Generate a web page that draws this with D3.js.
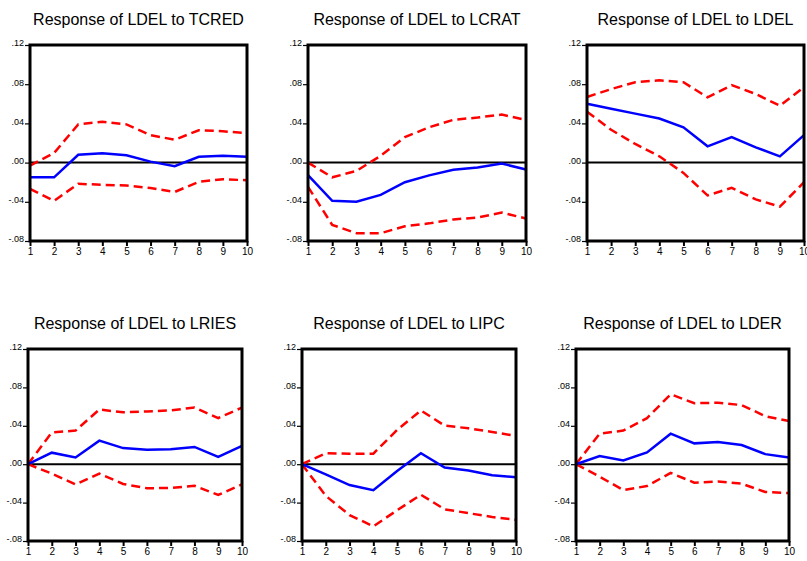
<!DOCTYPE html>
<meta charset="utf-8">
<head>
<style>
  body{ margin:0; background:#fff; }
  text{ font-family: "Liberation Sans", Arial, sans-serif; fill:#000; }
  .title{ font-size:16px; }
  .tick{ font-size:9px; font-family:"Liberation Sans Narrow","Liberation Sans",Arial,sans-serif; }
</style>
</head>
<title>Impulse responses</title>
<script src="https://d3js.org/d3.v7.min.js"></script>
<div id="chart"></div>
<script>

var steps = [1,2,3,4,5,6,7,8,9,10];
var yTicks = [0.12, 0.08, 0.04, 0.00, -0.04, -0.08];
var yTickLabels = [".12", ".08", ".04", ".00", "-.04", "-.08"];
var titles = ["Response of LDEL to TCRED", "Response of LDEL to LCRAT", "Response of LDEL to LDEL",
              "Response of LDEL to LRIES", "Response of LDEL to LIPC", "Response of LDEL to LDER"];

// point estimates
var respTCRED = [-0.015,-0.015,0.008,0.0095,0.0075,0.001,-0.0037,0.006,0.007,0.006];
var respLCRAT = [-0.0128,-0.039,-0.040,-0.033,-0.020,-0.013,-0.0074,-0.005,-0.001,-0.007];
var respLDEL  = [0.060,0.055,0.050,0.045,0.036,0.0166,0.026,0.0156,0.0064,0.028];
var respLRIES = [0,0.012,0.007,0.0245,0.0168,0.015,0.0157,0.018,0.0077,0.019];
var respLIPC  = [0,-0.0105,-0.0217,-0.027,-0.007,0.0115,-0.0035,-0.0066,-0.0115,-0.0136];
var respLDER  = [0,0.0084,0.0038,0.0122,0.0318,0.0217,0.023,0.020,0.0105,0.007];

// upper bands (+2 s.e.)
var upTCRED = [-0.003,0.0098,0.039,0.0416,0.039,0.028,0.0233,0.033,0.032,0.030];
var upLCRAT = [0,-0.015,-0.0085,0.007,0.026,0.036,0.0436,0.046,0.049,0.0436];
var upLDEL  = [0.067,0.075,0.082,0.084,0.082,0.0666,0.079,0.070,0.058,0.077];
var upLRIES = [0,0.033,0.035,0.057,0.054,0.055,0.056,0.059,0.048,0.059];
var upLIPC  = [0,0.0115,0.0108,0.011,0.0357,0.056,0.0402,0.0374,0.0336,0.0294];
var upLDER  = [0,0.0318,0.035,0.048,0.0728,0.0636,0.064,0.0616,0.050,0.045];

// lower bands (-2 s.e.)
var loTCRED = [-0.0267,-0.039,-0.0216,-0.0227,-0.0233,-0.026,-0.030,-0.0196,-0.017,-0.018];
var loLCRAT = [-0.0247,-0.0636,-0.072,-0.072,-0.065,-0.062,-0.058,-0.056,-0.051,-0.057];
var loLDEL  = [0.052,0.0335,0.019,0.0064,-0.0105,-0.0335,-0.0257,-0.0375,-0.045,-0.020];
var loLRIES = [0,-0.0098,-0.021,-0.0098,-0.0206,-0.025,-0.0248,-0.0224,-0.032,-0.021];
var loLIPC  = [0,-0.033,-0.053,-0.0647,-0.048,-0.0318,-0.047,-0.051,-0.055,-0.058];
var loLDER  = [0,-0.013,-0.027,-0.0227,-0.0091,-0.0192,-0.018,-0.0203,-0.029,-0.030];

var resp = [respTCRED, respLCRAT, respLDEL, respLRIES, respLIPC, respLDER];
var up   = [upTCRED, upLCRAT, upLDEL, upLRIES, upLIPC, upLDER];
var lo   = [loTCRED, loLCRAT, loLDEL, loLRIES, loLIPC, loLDER];

// frame of each panel: left, right, top, bottom
var frames = [
  [30, 247, 45, 241], [308, 526, 45, 241], [587, 804, 45, 241],
  [28, 242, 349, 541], [302, 516, 349, 541], [576, 789, 349, 541]
];

var svg = d3.select("#chart").append("svg")
    .attr("width", 807)
    .attr("height", 561);

for (var i = 0; i < 6; i++) {
  var f = frames[i];
  var x = d3.scaleLinear().domain([1, 10]).range([f[0], f[1]]);
  var y = d3.scaleLinear().domain([-0.08, 0.12]).range([f[3], f[2]]);
  var g = svg.append("g");

  g.append("text").attr("class", "title")
    .attr("x", (f[0] + f[1]) / 2)
    .attr("y", f[2] - 20)
    .attr("text-anchor", "middle")
    .text(titles[i]);

  // y axis
  var yAxis = d3.axisLeft(y).tickValues(yTicks).tickSize(5).tickPadding(1)
      .tickFormat(function(d, k) { return yTickLabels[k]; });
  var ya = g.append("g").attr("transform", "translate(" + f[0] + ",0)").call(yAxis);
  ya.select(".domain").remove();
  ya.selectAll("line").attr("stroke", "#000").attr("stroke-width", 1.2);
  ya.selectAll("text").attr("class", "tick").attr("dy", "0.1em");

  // x axis
  var xAxis = d3.axisBottom(x).tickValues(steps).tickSize(5).tickPadding(2);
  var xa = g.append("g").attr("transform", "translate(0," + f[3] + ")").call(xAxis);
  xa.select(".domain").remove();
  xa.selectAll("line").attr("stroke", "#000").attr("stroke-width", 2);
  xa.selectAll("text").attr("class", "tick").style("font-size", "10px");

  // zero line
  g.append("line")
    .attr("x1", f[0]).attr("x2", f[1])
    .attr("y1", y(0)).attr("y2", y(0))
    .attr("stroke", "#000").attr("stroke-width", 2);

  var line = d3.line()
      .x(function(d, k) { return x(steps[k]); })
      .y(function(d) { return y(d); });

  g.append("path").datum(up[i]).attr("d", line)
    .attr("fill", "none").attr("stroke", "#ff0000").attr("stroke-width", 2.5)
    .attr("stroke-dasharray", "9,5");
  g.append("path").datum(lo[i]).attr("d", line)
    .attr("fill", "none").attr("stroke", "#ff0000").attr("stroke-width", 2.5)
    .attr("stroke-dasharray", "9,5");
  g.append("path").datum(resp[i]).attr("d", line)
    .attr("fill", "none").attr("stroke", "#0000ff").attr("stroke-width", 2.5);

  // frame
  g.append("rect")
    .attr("x", f[0]).attr("y", f[2])
    .attr("width", f[1] - f[0]).attr("height", f[3] - f[2])
    .attr("fill", "none").attr("stroke", "#000").attr("stroke-width", 3);
}

</script>
